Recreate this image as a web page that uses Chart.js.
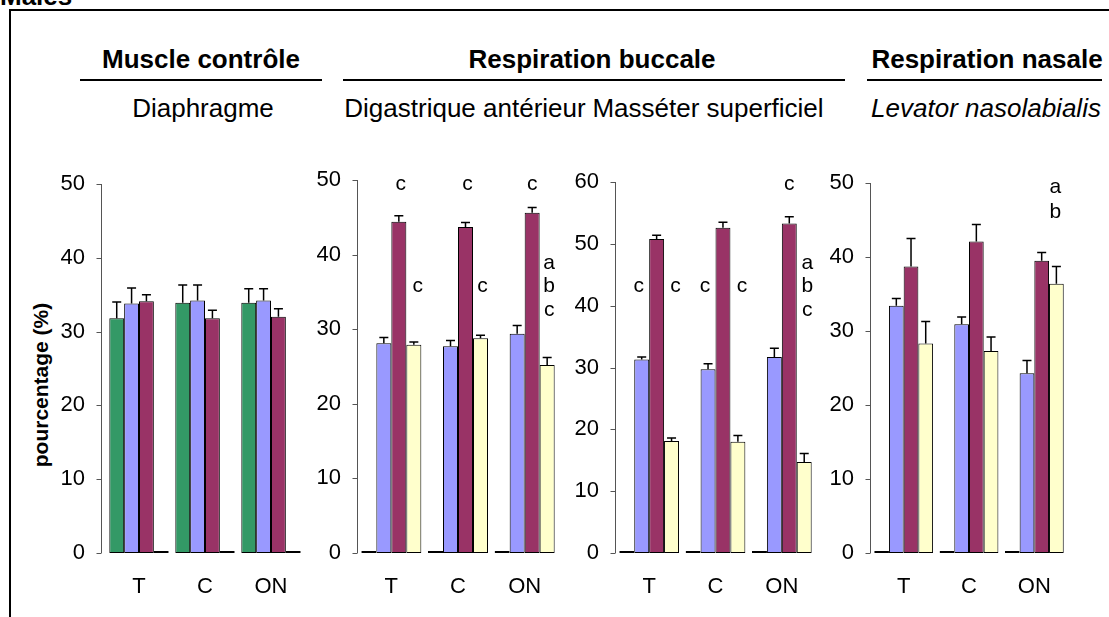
<!DOCTYPE html>
<html>
<head>
<meta charset="utf-8">
<script src="https://cdn.jsdelivr.net/npm/chart.js@4.4.0/dist/chart.umd.min.js"></script>
<style>
  body { margin: 0; width: 1109px; height: 617px; background: #fff; position: relative; overflow: hidden;
         font-family: 'Liberation Sans', Arial, sans-serif; color: #000; }
  .txt { position: absolute; white-space: nowrap; line-height: 1; transform: translateX(-50%); }
  .b { font-weight: bold; }
  .rule { position: absolute; height: 2px; background: #000; }
  canvas { position: absolute; }
</style>
</head>
<body>
<div class="txt b" style="left:0; top:-17px; transform:none; font-size:26px">Males</div>
<div class="rule" style="left:9px; top:9px; width:1100px"></div>
<div style="position:absolute; left:9px; top:9px; width:2px; height:608px; background:#000"></div>

<div class="txt b" style="left:201px; top:46px; font-size:26px">Muscle contrôle</div>
<div class="txt b" style="left:592px; top:46px; font-size:26px">Respiration buccale</div>
<div class="txt b" style="left:987px; top:46px; font-size:26px">Respiration nasale</div>
<div class="rule" style="left:80px; top:79px; width:242px"></div>
<div class="rule" style="left:343px; top:79px; width:502px"></div>
<div class="rule" style="left:867px; top:79px; width:235px"></div>
<div class="txt" style="left:203px; top:95px; font-size:26px">Diaphragme</div>
<div class="txt" style="left:465px; top:95px; font-size:26px">Digastrique antérieur</div>
<div class="txt" style="left:708px; top:95px; font-size:26px">Masséter superficiel</div>
<div class="txt" style="left:986px; top:95px; font-size:26px; font-style:italic">Levator nasolabialis</div>
<div class="txt b" style="left:40px; top:385px; font-size:21px; transform:translate(-50%,-50%) rotate(-90deg)">pourcentage (%)</div>

<canvas id="c0"></canvas>
<canvas id="c1"></canvas>
<canvas id="c2"></canvas>
<canvas id="c3"></canvas>

<script>
const categories = ['T', 'C', 'ON'];
const seriesNames = ['vert', 'bleu', 'bordeaux', 'jaune'];
const seriesColors = ['#339966', '#9999FF', '#993366', '#FFFFCC'];

// mean values per series (green, blue, maroon, yellow), one entry per category
const diaphragme = [[31.8, 33.9, 33.9], [33.8, 34.2, 34.2], [34.1, 31.8, 32.0], [0, 0, 0]];
const diaphragmeErr = [[2.2, 2.4, 1.9], [2.1, 2.1, 1.6], [0.9, 1.1, 1.1], [0, 0, 0]];

const digastrique = [[0, 0, 0], [28.1, 27.7, 29.4], [44.4, 43.7, 45.6], [27.9, 28.8, 25.2]];
const digastriqueErr = [[0, 0, 0], [0.8, 0.8, 1.1], [0.8, 0.6, 0.7], [0.4, 0.4, 1.0]];

const masseter = [[0, 0, 0], [31.3, 29.7, 31.7], [50.8, 52.6, 53.3], [18.1, 18.0, 14.7]];
const masseterErr = [[0, 0, 0], [0.4, 0.9, 1.4], [0.6, 0.9, 1.1], [0.5, 1.0, 1.4]];

const levator = [[0, 0, 0], [33.4, 30.9, 24.3], [38.7, 42.1, 39.5], [28.3, 27.3, 36.4]];
const levatorErr = [[0, 0, 0], [1.0, 1.0, 1.7], [3.8, 2.3, 1.1], [3.0, 1.9, 2.3]];

const yMax = [50, 50, 60, 50];

// significance letters: [category, series, value, text, x shift]
const diaphragmeLetters = [];
const digastriqueLetters = [
  [0, 2, 49.5, 'c', 2], [1, 2, 49.5, 'c', 2], [2, 2, 49.5, 'c', 0],
  [0, 3, 35.8, 'c', 4], [1, 3, 35.8, 'c', 2],
  [2, 3, 38.9, 'a', 2], [2, 3, 35.8, 'b', 2], [2, 3, 32.5, 'c', 2]
];
const masseterLetters = [
  [0, 1, 43.2, 'c', -3], [0, 3, 43.2, 'c', 4], [1, 1, 43.2, 'c', -3], [1, 3, 43.2, 'c', 4],
  [2, 2, 59.6, 'c', 0],
  [2, 3, 46.9, 'a', 3], [2, 3, 43.2, 'b', 3], [2, 3, 39.3, 'c', 3]
];
const levatorLetters = [[2, 3, 49.4, 'a', -1], [2, 3, 46.0, 'b', -1]];

const panelValues = [diaphragme, digastrique, masseter, levator];
const panelErrors = [diaphragmeErr, digastriqueErr, masseterErr, levatorErr];
const panelLetters = [diaphragmeLetters, digastriqueLetters, masseterLetters, levatorLetters];

// plot area of each panel on the page (left, top, width); zero line sits at y = 553
const boxes = [
  { left: 106, top: 184, width: 198, gap: 4 },
  { left: 358, top: 180, width: 200, gap: 0 },
  { left: 616, top: 182, width: 199, gap: 0 },
  { left: 871, top: 183, width: 196, gap: 0 }
];
const zeroY = 553;
const axisW = 60, padTop = 10, padRight = 4, xAxisH = 50;
const font = { family: "'Liberation Sans', Arial, sans-serif", size: 22 };

// error bars, y axis line and the letters above the bars
const extras = {
  id: 'extras',
  afterDatasetsDraw(chart, args, opts) {
    const { ctx, chartArea } = chart;
    const y = chart.scales.y;
    ctx.save();
    ctx.strokeStyle = '#000';
    ctx.lineWidth = 1.5;
    chart.data.datasets.forEach((ds, i) => {
      chart.getDatasetMeta(i).data.forEach((bar, j) => {
        const e = opts.errors[i][j];
        if (!e) return;
        const top = y.getPixelForValue(ds.data[j] + e);
        ctx.beginPath();
        ctx.moveTo(bar.x, bar.y);
        ctx.lineTo(bar.x, top);
        ctx.moveTo(bar.x - 4.5, top);
        ctx.lineTo(bar.x + 4.5, top);
        ctx.stroke();
      });
    });

    const ax = chartArea.left - opts.gap - 0.5;
    ctx.strokeStyle = '#555';
    ctx.lineWidth = 1;
    ctx.beginPath();
    ctx.moveTo(ax, y.getPixelForValue(y.max));
    ctx.lineTo(ax, y.getPixelForValue(0));
    y.ticks.forEach(t => {
      const py = Math.round(y.getPixelForValue(t.value)) + 0.5;
      ctx.moveTo(ax - 5, py);
      ctx.lineTo(ax, py);
    });
    ctx.stroke();

    ctx.fillStyle = '#000';
    ctx.font = "21px 'Liberation Sans', Arial, sans-serif";
    ctx.textAlign = 'center';
    ctx.textBaseline = 'middle';
    opts.letters.forEach(([cat, s, v, txt, dx]) => {
      const bar = chart.getDatasetMeta(s).data[cat];
      ctx.fillText(txt, bar.x + dx, y.getPixelForValue(v));
    });
    ctx.restore();
  }
};

boxes.forEach((b, k) => {
  const canvas = document.getElementById('c' + k);
  canvas.width = axisW + b.width + padRight;
  canvas.height = padTop + (zeroY - b.top) + xAxisH;
  canvas.style.left = (b.left - axisW) + 'px';
  canvas.style.top = (b.top - padTop) + 'px';

  new Chart(canvas, {
    type: 'bar',
    data: {
      labels: categories,
      datasets: panelValues[k].map((vals, i) => ({
        label: seriesNames[i],
        data: vals,
        backgroundColor: seriesColors[i],
        borderColor: '#000',
        borderWidth: 1,
        borderSkipped: false,
        minBarLength: 2,
        categoryPercentage: 0.9,
        barPercentage: 1.0
      }))
    },
    options: {
      responsive: false,
      animation: false,
      layout: { padding: { top: padTop, right: padRight, left: 0, bottom: 0 } },
      plugins: {
        legend: { display: false },
        tooltip: { enabled: false },
        extras: { errors: panelErrors[k], letters: panelLetters[k], gap: b.gap }
      },
      scales: {
        x: {
          grid: { display: false },
          border: { display: false },
          ticks: { color: '#000', font: font, padding: 13, maxRotation: 0 },
          afterFit: s => { s.height = xAxisH; s.paddingLeft = 0; s.paddingRight = 0; }
        },
        y: {
          min: 0,
          max: yMax[k],
          grid: { display: false },
          border: { display: false },
          ticks: { color: '#000', font: font, stepSize: 10, padding: 9 + b.gap },
          afterFit: s => { s.width = axisW; s.paddingTop = 0; s.paddingBottom = 0; }
        }
      }
    },
    plugins: [extras]
  });
});
</script>
</body>
</html>
